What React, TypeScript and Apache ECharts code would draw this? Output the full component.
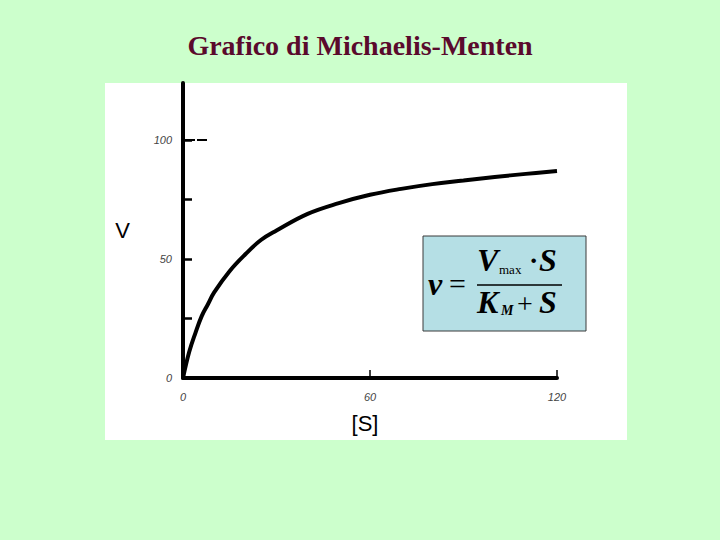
import React, { useEffect, useRef } from "react";
import * as echarts from "echarts";

const substrate = [0, 2, 4, 6, 8, 10, 15, 20, 25, 30, 40, 50, 60, 70, 80, 90, 100, 110, 120];
const velocity = [0, 11, 19, 26, 31, 36, 45, 52, 58, 62, 69, 73.5, 77, 79.5, 81.5, 83, 84.5, 85.8, 87];
const yTicks = [0, 25, 50, 75, 100];
const yLabels = [0, 50, 100];
const xLabels = [0, 60, 120];
const title = "Grafico di Michaelis-Menten";

export default function App() {
  const ref = useRef<HTMLDivElement>(null);
  useEffect(() => {
    if (!ref.current) return;
    const chart = echarts.init(ref.current, null, { renderer: "svg" });
    const serif = "'Liberation Serif', 'Times New Roman', serif";
    chart.setOption({
      animation: false,
      backgroundColor: "#ccffcc",
      title: {
        text: title,
        left: "center",
        top: 26,
        textStyle: { fontFamily: serif, fontSize: 28, fontWeight: "bold", color: "#5a0a2c" },
      },
      grid: { left: 183, top: 83, right: 163, bottom: 162 },
      xAxis: {
        type: "value",
        min: 0,
        max: 120,
        interval: 60,
        name: "[S]",
        nameLocation: "middle",
        nameGap: 34,
        nameTextStyle: {
          fontFamily: "'Liberation Sans', Arial, sans-serif",
          fontSize: 22,
          color: "#000",
          padding: [0, 10, 0, 0],
        },
        axisLine: { lineStyle: { color: "#000", width: 4 } },
        axisTick: { inside: true, length: 8, lineStyle: { color: "#000", width: 1.5 } },
        axisLabel: {
          margin: 13,
          fontFamily: "'Liberation Sans', Arial, sans-serif",
          fontStyle: "italic",
          fontSize: 11,
          color: "#444",
          customValues: xLabels,
        },
        splitLine: { show: false },
      },
      yAxis: {
        type: "value",
        min: 0,
        max: 124,
        interval: 25,
        name: "V",
        nameLocation: "middle",
        nameGap: 53,
        nameRotate: 0,
        nameTextStyle: { fontFamily: "'Liberation Sans', Arial, sans-serif", fontSize: 22, color: "#000" },
        axisLine: { lineStyle: { color: "#000", width: 4 } },
        axisTick: { inside: true, length: 9, lineStyle: { color: "#000", width: 2.5 }, customValues: yTicks },
        axisLabel: {
          margin: 11,
          fontFamily: "'Liberation Sans', Arial, sans-serif",
          fontStyle: "italic",
          fontSize: 11,
          color: "#444",
          customValues: yLabels,
        },
        splitLine: { show: false },
      },
      graphic: [
        {
          type: "rect",
          z: -10,
          silent: true,
          shape: { x: 105, y: 83, width: 522, height: 357 },
          style: { fill: "#ffffff" },
        },
        {
          type: "group",
          z: 100,
          children: [
            {
              type: "rect",
              shape: { x: 423, y: 236, width: 163, height: 95 },
              style: { fill: "#b5dfe5", stroke: "#3a3a3a", lineWidth: 1 },
            },
            { type: "text", x: 428, y: 284, style: { text: "v", font: `italic bold 32px ${serif}`, fill: "#000", verticalAlign: "middle" } },
            { type: "text", x: 449, y: 283, style: { text: "=", font: `30px ${serif}`, fill: "#000", verticalAlign: "middle" } },
            { type: "text", x: 477, y: 276, style: { text: "V", font: `italic bold 32px ${serif}`, fill: "#000", verticalAlign: "bottom" } },
            { type: "text", x: 499, y: 276, style: { text: "max", font: `13px ${serif}`, fill: "#000", verticalAlign: "bottom" } },
            { type: "text", x: 529, y: 274, style: { text: "·", font: `bold 28px ${serif}`, fill: "#000", verticalAlign: "bottom" } },
            { type: "text", x: 539, y: 276, style: { text: "S", font: `italic bold 32px ${serif}`, fill: "#000", verticalAlign: "bottom" } },
            { type: "line", shape: { x1: 477, y1: 285, x2: 562, y2: 285 }, style: { stroke: "#000", lineWidth: 1.5 } },
            { type: "text", x: 477, y: 318, style: { text: "K", font: `italic bold 32px ${serif}`, fill: "#000", verticalAlign: "bottom" } },
            { type: "text", x: 501, y: 317, style: { text: "M", font: `italic bold 14px ${serif}`, fill: "#000", verticalAlign: "bottom" } },
            { type: "text", x: 517, y: 317, style: { text: "+", font: `28px ${serif}`, fill: "#000", verticalAlign: "bottom" } },
            { type: "text", x: 539, y: 318, style: { text: "S", font: `italic bold 32px ${serif}`, fill: "#000", verticalAlign: "bottom" } },
          ],
        },
      ],
      series: [
        {
          type: "line",
          data: substrate.map((s, i) => [s, velocity[i]]),
          smooth: 0.4,
          showSymbol: false,
          lineStyle: { color: "#000", width: 4 },
          markLine: {
            silent: true,
            symbol: "none",
            label: { show: false },
            lineStyle: { color: "#000", width: 2, type: [12, 2] },
            data: [[{ coord: [0, 100] }, { coord: [7.7, 100] }]],
          },
        },
      ],
    });
    return () => chart.dispose();
  }, []);
  return <div ref={ref} style={{ position: "absolute", left: 0, top: 0, width: 720, height: 540 }} />;
}
